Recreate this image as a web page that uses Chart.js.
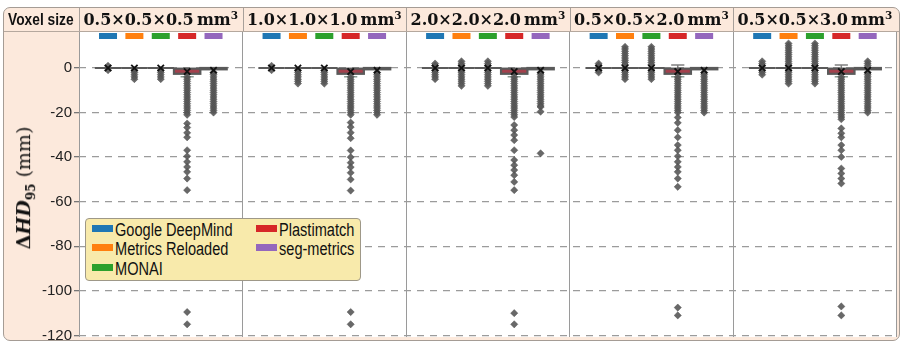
<!DOCTYPE html>
<html>
<head>
<meta charset="utf-8">
<script src="https://cdn.jsdelivr.net/npm/chart.js@4.4.1/dist/chart.umd.min.js"></script>
<style>
body { margin: 0; background: #fff; }
#wrap { position: relative; width: 903px; height: 344px; overflow: hidden; }
#frame { position: absolute; left: 3px; top: 7px; width: 895px; height: 332px; border: 1px solid #a59c95; border-radius: 7px; background: #fce9dc; }
#c { position: absolute; left: 0; top: 0; }
.head { position: absolute; top: 8px; height: 23px; line-height: 23px; text-align: center; white-space: nowrap; color: #111; }
.narrow { display: inline-block; transform: scaleX(0.81); transform-origin: 0 50%; }
#voxel { left: 8px; width: 80px; text-align: left; font-family: "Liberation Sans"; font-weight: bold; font-size: 17px; }
.ptitle { font-family: "DejaVu Serif"; font-weight: bold; font-size: 16px; }
.ptitle sup { font-size: 10.5px; vertical-align: baseline; position: relative; top: -6px; }
#ytitle { position: absolute; left: 25px; top: 188px; transform: translate(-50%, -50%) rotate(-90deg); font-family: "DejaVu Serif"; font-size: 19px; white-space: nowrap; color: #111; }
#ytitle sub { font-size: 12px; font-weight: bold; }
#legend { position: absolute; left: 85px; top: 218px; width: 274px; height: 61px; background: #f8eaab; border: 1px solid #9e9888; border-radius: 4px; font-family: "Liberation Sans"; font-size: 18px; color: #111; }
.li { position: absolute; height: 19px; line-height: 19px; white-space: nowrap; }
.li .sw { display: inline-block; width: 21px; height: 7px; margin-right: 2px; vertical-align: 4px; }
</style>
</head>
<body>
<div id="wrap">
  <div id="frame"></div>
  <canvas id="c" width="903" height="344"></canvas>
  <div class="head" id="voxel"><span class="narrow">Voxel size</span></div>
  <div id="ytitle"><b>Δ<i>HD</i></b><sub>95</sub>&nbsp;(mm)</div>
  <div id="legend"></div>
</div>
<script>
// one panel per voxel size, one box per implementation
var voxelSizes = ['0.5×0.5×0.5', '1.0×1.0×1.0', '2.0×2.0×2.0', '0.5×0.5×2.0', '0.5×0.5×3.0'];
var tools = ['Google DeepMind', 'Metrics Reloaded', 'MONAI', 'Plastimatch', 'seg-metrics'];
var toolColors = ['#1f77b4', '#ff7f0e', '#2ca02c', '#d62728', '#9467bd'];
var boxFills = ['#3b6f99', '#c87a3a', '#3f8a45', '#a3404c', '#7f68a0'];
var yTicks = [-120, -100, -80, -60, -40, -20, 0];

// box stats: rows = tools, columns = voxel sizes
var boxLow    = [[0, 0, 0, 0, 0], [0, 0, 0, 0, 0], [0, 0, 0, 0, 0], [-2.6, -2.6, -2.6, -2.6, -2.6], [-0.6, -0.6, -0.6, -0.6, -0.6]];
var boxHigh   = [[0, 0, 0, 0, 0], [0, 0, 0, 0, 0], [0, 0, 0, 0, 0], [-0.3, -0.3, -0.3, -0.3, -0.3], [0, 0, 0, 0, 0]];
var whiskLow  = [[0, 0, 0, 0, 0], [0, 0, 0, 0, 0], [0, 0, 0, 0, 0], [-3.9, -3.9, -3.9, -3.9, -3.9], [-0.6, -0.6, -0.6, -0.6, -0.6]];
var whiskHigh = [[0, 0, 0, 0, 0], [0, 0, 0, 0, 0], [0, 0, 0, 0, 0], [-0.3, -0.3, -0.3, 1.4, 1.4], [0, 0, 0, 0, 0]];
var means     = [[0, 0, 0, 0, 0], [0, 0, 0, 0, 0], [0, 0, 0, 0, 0], [-1.6, -1.6, -1.6, -1.6, -1.6], [-1, -1, -1, -1, -1]];

// outliers, one list per voxel size
var outGDM = [
  [1, -1],
  [1, -1],
  [2, 1, -1, -2, -3, -4, -5],
  [2, 1, -1, -2],
  [3, 2, 1, -1, -2, -3]
];
var outMR = [
  [-1, -2, -3, -4, -5],
  [-1, -2, -3, -4, -5, -6, -7],
  [3, 2, 1, -1, -2, -3, -4, -5, -6, -7, -8],
  [9.5, 8.5, 7.5, 6.5, 5.5, 4.5, 3.5, 2.5, 1.5, -1, -2, -3, -4, -5],
  [11, 10, 9, 8, 7, 6, 5, 4, 3, 2, 1, -1, -2, -3, -4, -5, -6, -7]
];
var outMONAI = [
  [-1, -2, -3, -4, -5],
  [-1, -2, -3, -4, -5, -6, -7],
  [3, 2, 1, -1, -2, -3, -4, -5, -6, -7, -8],
  [9.5, 8.5, 7.5, 6.5, 5.5, 4.5, 3.5, 2.5, 1.5, -1, -2, -3, -4, -5],
  [11, 10, 9, 8, 7, 6, 5, 4, 3, 2, 1, -1, -2, -3, -4, -5, -6, -7]
];
var outPlast = [
  [-4, -5, -6, -7, -8, -9, -10, -11, -12, -13, -14, -15, -16, -17, -18, -19, -20, -21,
   -24.9, -26.7, -29.1, -31.1, -36.9, -39.6, -42.1, -44.4, -46.6, -49.6, -54.8, -109.5, -115],
  [-4, -5, -6, -7, -8, -9, -10, -11, -12, -13, -14, -15, -16, -17, -18, -19, -20, -21,
   -24.5, -26.5, -29, -31.5, -37, -40, -42.5, -44.5, -47, -50, -55, -109.5, -115],
  [-4, -5, -6, -7, -8, -9, -10, -11, -12, -13, -14, -15, -16, -17, -18, -19, -20, -21, -22,
   -25.6, -27.9, -30.1, -32.4, -36.9, -41.3, -43.6, -45.8, -48.1, -51.1, -54.8, -110, -115],
  [-4, -5, -6, -7, -8, -9, -10, -11, -12, -13, -14, -15, -16, -17, -18, -19, -20,
   -22.2, -24.6, -27.9, -31.1, -34.6, -36.9, -39.6, -42.1, -44.4, -46.6, -49.6, -53.3, -107.5, -111],
  [-4, -5, -6, -7, -8, -9, -10, -11, -12, -13, -14, -15, -16, -17, -18, -19, -20, -21, -22, -23,
   -27.1, -29.3, -31.1, -34.6, -36.9, -39.9, -45.1, -47.3, -49.6, -51.8, -107, -111]
];
var outSeg = [
  [-2, -3, -4, -5, -6, -7, -8, -9, -10, -11, -12, -13, -14, -15, -16, -17, -18, -19, -20],
  [-2, -3, -4, -5, -6, -7, -8, -9, -10, -11, -12, -13, -14, -15, -16, -17, -18, -19, -20, -21],
  [-2, -3, -4, -5, -6, -7, -8, -9, -10, -11, -12, -13, -14, -15, -16, -17, -17.5, -19.6, -38.3],
  [-2, -3, -4, -5, -6, -7, -8, -9, -10, -11, -12, -13, -14, -15, -16, -17, -18, -19, -20],
  [3, 2, 1, -2, -3, -4, -5, -6, -7, -8, -9, -10, -11, -12, -13, -14, -15, -16, -17, -18, -19, -20]
];
var outliers = [outGDM, outMR, outMONAI, outPlast, outSeg];

// x layout in box units
var PANEL = 6.2, FIRST = 1.1;
function boxX(p, t) { return p * PANEL + FIRST + t; }
var panelEdges = voxelSizes.map(function (v, i) { return i * PANEL; }).concat([voxelSizes.length * PANEL]);

var outPts = [], meanPts = [];
voxelSizes.forEach(function (v, p) {
  tools.forEach(function (name, t) {
    outliers[t][p].forEach(function (y) { outPts.push({x: boxX(p, t), y: y}); });
    meanPts.push({x: boxX(p, t), y: means[t][p]});
  });
});

var boxPlugin = {
  id: 'boxes',
  beforeDraw: function (chart) {
    var a = chart.chartArea, ctx = chart.ctx;
    ctx.save();
    ctx.fillStyle = '#fff';
    ctx.fillRect(a.left, a.top, a.right - a.left, a.bottom - a.top);
    ctx.restore();
  },
  beforeDatasetsDraw: function (chart) {
    var ctx = chart.ctx, xs = chart.scales.x, ys = chart.scales.y, a = chart.chartArea;
    var hw = xs.getPixelForValue(0.5) - xs.getPixelForValue(0);
    ctx.save();
    // header separators and rule
    ctx.strokeStyle = '#a8a09a';
    ctx.lineWidth = 1;
    panelEdges.slice(0, -1).forEach(function (v) {
      var x = Math.round(xs.getPixelForValue(v)) + 0.5;
      ctx.beginPath(); ctx.moveTo(x, 8); ctx.lineTo(x, a.top); ctx.stroke();
    });
    ctx.strokeStyle = '#b5a89e';
    ctx.beginPath(); ctx.moveTo(4, a.top + 0.5); ctx.lineTo(899, a.top + 0.5); ctx.stroke();

    voxelSizes.forEach(function (v, p) {
      tools.forEach(function (name, t) {
        var cx = xs.getPixelForValue(boxX(p, t));
        // colour tag at the top
        ctx.fillStyle = toolColors[t];
        ctx.fillRect(cx - 9, a.top + 2, 18, 6);
        // whiskers
        var y0 = ys.getPixelForValue(boxLow[t][p]), y1 = ys.getPixelForValue(boxHigh[t][p]);
        var wl = ys.getPixelForValue(whiskLow[t][p]), wh = ys.getPixelForValue(whiskHigh[t][p]);
        ctx.lineWidth = 1.5;
        if (wl > y0 + 1) {
          ctx.strokeStyle = '#8c9c94';
          ctx.beginPath(); ctx.moveTo(cx, y0); ctx.lineTo(cx, wl);
          ctx.moveTo(cx - hw * 0.5, wl); ctx.lineTo(cx + hw * 0.5, wl); ctx.stroke();
        }
        if (wh < y1 - 1) {
          ctx.strokeStyle = '#808080';
          ctx.beginPath(); ctx.moveTo(cx, y1); ctx.lineTo(cx, wh);
          ctx.moveTo(cx - hw * 0.5, wh); ctx.lineTo(cx + hw * 0.5, wh); ctx.stroke();
        }
        // box
        ctx.fillStyle = boxFills[t];
        ctx.fillRect(cx - hw, y1, hw * 2, y0 - y1);
        ctx.strokeStyle = '#5a5a5a';
        ctx.lineWidth = 2.2;
        ctx.strokeRect(cx - hw, y1, hw * 2, y0 - y1);
      });
    });
    ctx.restore();
  }
};

var chart = new Chart(document.getElementById('c').getContext('2d'), {
  type: 'scatter',
  data: {
    datasets: [
      {
        label: 'mean',
        data: meanPts,
        pointStyle: 'crossRot',
        pointRadius: 4.5,
        borderColor: '#111',
        borderWidth: 1.8,
        order: 0
      },
      {
        label: 'outliers',
        data: outPts,
        pointStyle: 'rectRot',
        pointRadius: 3.6,
        backgroundColor: 'rgba(88,88,88,0.9)',
        borderColor: 'rgba(75,75,75,0.9)',
        borderWidth: 0.5,
        order: 1
      }
    ]
  },
  options: {
    responsive: false,
    animation: false,
    events: [],
    layout: { padding: { left: 0, right: 5, top: 31, bottom: 7 } },
    plugins: { legend: { display: false }, tooltip: { enabled: false } },
    scales: {
      x: {
        type: 'linear',
        min: 0,
        max: voxelSizes.length * PANEL,
        afterBuildTicks: function (s) { s.ticks = panelEdges.map(function (v) { return {value: v}; }); },
        afterFit: function (s) { s.height = 0; s.paddingLeft = 0; s.paddingRight = 0; },
        ticks: { display: false },
        grid: { color: '#9a9a9a', lineWidth: 1, drawTicks: false },
        border: { display: false }
      },
      y: {
        min: -120.7,
        max: 16.6,
        afterBuildTicks: function (s) { s.ticks = yTicks.map(function (v) { return {value: v}; }); },
        afterFit: function (s) { s.width = 79; s.paddingTop = 0; s.paddingBottom = 0; },
        ticks: { font: { family: 'Liberation Sans', size: 15 }, color: '#222', padding: 2 },
        grid: { color: '#9b9b9b', lineWidth: 1.3, tickLength: 5, tickColor: '#777' },
        border: { display: false, dash: [7, 6] }
      }
    }
  },
  plugins: [boxPlugin]
});

// panel titles over the header strip
var wrap = document.getElementById('wrap');
var xs = chart.scales.x;
voxelSizes.forEach(function (v, p) {
  var l = xs.getPixelForValue(p * PANEL), r = xs.getPixelForValue((p + 1) * PANEL);
  var d = document.createElement('div');
  d.className = 'head ptitle';
  d.style.left = l + 'px';
  d.style.width = (r - l) + 'px';
  d.innerHTML = v + '&thinsp;mm<sup>3</sup>';
  wrap.appendChild(d);
});

// legend, two columns
var legend = document.getElementById('legend');
var legPos = [[6, 2], [6, 21], [6, 41], [170, 2], [170, 21]];
tools.forEach(function (name, t) {
  var d = document.createElement('div');
  d.className = 'li';
  d.style.left = legPos[t][0] + 'px';
  d.style.top = legPos[t][1] + 'px';
  d.innerHTML = '<span class="sw" style="background:' + toolColors[t] + '"></span><span class="narrow">' + name + '</span>';
  legend.appendChild(d);
});
</script>
</body>
</html>
